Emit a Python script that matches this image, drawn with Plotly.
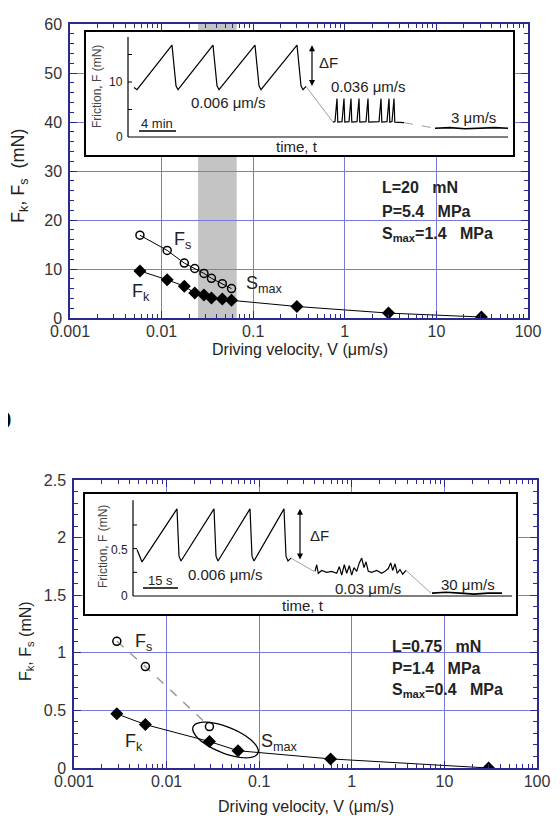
import numpy as np
import plotly.graph_objects as go

# page is 560x816 but the html body has an 8px margin
OFF = 8
W, H = 552, 808
FONT = "Liberation Sans, Arial, sans-serif"
NAVY = "#2b2b8f"
GRID = "#7878e2"

# ---- panel a (L = 20 mN) ----
v_top = [0.0058, 0.0115, 0.0177, 0.023, 0.029, 0.035, 0.046, 0.058, 0.30, 3.0, 31]
fk_top = [9.6, 7.8, 6.5, 5.1, 4.7, 4.1, 3.9, 3.6, 2.35, 1.0, 0.2]
vs_top = [0.0058, 0.0115, 0.0177, 0.023, 0.029, 0.035, 0.046, 0.058]
fs_top = [16.9, 13.8, 11.2, 10.1, 9.1, 8.1, 7.0, 6.0]
band_top = [0.025, 0.066]

# ---- panel b (L = 0.75 mN) ----
v_bot = [0.0029, 0.0059, 0.029, 0.059, 0.59, 30]
fk_bot = [0.47, 0.377, 0.23, 0.15, 0.079, 0.0]
vs_bot = [0.0029, 0.0059, 0.029]
fs_bot = [1.10, 0.88, 0.36]

x_ticks = [0.001, 0.01, 0.1, 1, 10, 100]
x_ticktext = ["0.001", "0.01", "0.1", "1", "10", "100"]

# ---- inset a: friction traces vs time (arbitrary time units) ----
saw_a_t = [6, 9, 44, 48, 50, 85, 89, 91, 127, 131, 133, 169, 173, 175, 178]
saw_a_f = [9.0, 8.6, 16.7, 9.3, 8.6, 16.7, 9.3, 8.6, 16.7, 9.3, 8.6, 16.7, 9.3, 8.6, 9.2]
link_a1_t = [178, 205]
link_a1_f = [9.2, 2.7]
stick_a_t = [205, 207, 209, 209.8, 214, 216, 216.8, 221, 223, 223.8, 229, 231, 231.8,
             238, 240, 240.8, 251, 253, 253.8, 259, 261, 261.8, 264, 266, 266.8, 276]
stick_a_f = [2.7, 2.8, 7.0, 2.7, 2.8, 7.0, 2.7, 2.8, 7.0, 2.7, 2.8, 7.0, 2.7,
             2.8, 7.0, 2.7, 2.8, 7.0, 2.7, 2.8, 7.0, 2.7, 2.8, 7.0, 2.7, 2.6]
link_a2_t = [276, 307]
link_a2_f = [2.6, 1.6]
steady_a_t = [307, 322, 337, 352, 367, 380]
steady_a_f = [1.6, 1.7, 1.5, 1.6, 1.7, 1.6]

# ---- inset b ----
saw_b_t = [4, 9, 44, 46, 48, 81, 83, 85, 117, 119, 121, 151, 153, 155, 158]
saw_b_f = [0.49, 0.36, 0.92, 0.42, 0.37, 0.92, 0.42, 0.37, 0.92, 0.42, 0.37, 0.92, 0.42, 0.37, 0.40]
link_b1_t = [158, 181]
link_b1_f = [0.40, 0.26]
noise_b_t = [182, 183.7, 185.3, 188.7, 193.7, 198.7, 203.7, 206.3, 208.7, 211.3, 213.7,
             216.3, 218.7, 221, 223.7, 226.3, 228.7, 231, 233, 235.3, 238.7, 243.7,
             248.7, 252, 255.3, 257.7, 259.7, 262, 264.3, 267, 269.7, 273]
noise_b_f = [0.26, 0.33, 0.24, 0.27, 0.25, 0.26, 0.24, 0.31, 0.22, 0.33, 0.24,
             0.32, 0.22, 0.30, 0.26, 0.35, 0.40, 0.30, 0.36, 0.26, 0.25, 0.27,
             0.24, 0.26, 0.29, 0.35, 0.27, 0.34, 0.24, 0.28, 0.23, 0.27]
link_b2_t = [273, 298]
link_b2_f = [0.27, 0.03]
steady_b_t = [299, 313, 327, 341, 355, 369]
steady_b_f = [0.03, 0.04, 0.03, 0.02, 0.03, 0.03]

NB = "\u00a0"


def px(x):
    return (x - OFF) / W


def py(y):
    return 1 - (y - OFF) / H


def ann(text, x, y, size=15, xanchor="center", bold=False, angle=0, color="#222"):
    if bold:
        text = "<b>" + text + "</b>"
    return dict(text=text, x=px(x), y=py(y), xref="paper", yref="paper",
                showarrow=False, xanchor=xanchor, yanchor="middle", textangle=angle,
                font=dict(size=size, color=color, family=FONT))


fig = go.Figure()

# main data
fig.add_trace(go.Scatter(x=v_top, y=fk_top, mode="lines+markers", xaxis="x", yaxis="y",
                         line=dict(color="black", width=1),
                         marker=dict(symbol="diamond", size=10, color="black")))
fig.add_trace(go.Scatter(x=vs_top, y=fs_top, mode="lines+markers", xaxis="x", yaxis="y",
                         line=dict(color="black", width=1),
                         marker=dict(symbol="circle-open", size=8, color="black",
                                     line=dict(width=1.5))))
fig.add_trace(go.Scatter(x=vs_bot, y=fs_bot, mode="lines+markers", xaxis="x2", yaxis="y2",
                         line=dict(color="#9a9a9a", width=1.5, dash="dash"),
                         marker=dict(symbol="circle-open", size=8, color="black",
                                     line=dict(width=1.5))))
fig.add_trace(go.Scatter(x=v_bot, y=fk_bot, mode="lines+markers", xaxis="x2", yaxis="y2",
                         line=dict(color="black", width=1),
                         marker=dict(symbol="diamond", size=10, color="black")))


# inset traces
def inset_line(t, f, ax, color="black", width=1.2, dash="solid"):
    fig.add_trace(go.Scatter(x=t, y=f, mode="lines", xaxis="x" + ax, yaxis="y" + ax,
                             line=dict(color=color, width=width, dash=dash)))


inset_line(saw_a_t, saw_a_f, "3")
inset_line(link_a1_t, link_a1_f, "3", color="#888", width=0.8)
inset_line(stick_a_t, stick_a_f, "3")
inset_line(link_a2_t, link_a2_f, "3", color="#888", width=0.8, dash="dash")
inset_line(steady_a_t, steady_a_f, "3", width=1.6)

inset_line(saw_b_t, saw_b_f, "4")
inset_line(link_b1_t, link_b1_f, "4", color="#888", width=0.8)
inset_line(noise_b_t, noise_b_f, "4")
inset_line(link_b2_t, link_b2_f, "4", color="#888", width=0.8)
inset_line(steady_b_t, steady_b_f, "4", width=1.6)

minor_x = [m * 10.0 ** e for e in range(-3, 2) for m in range(2, 10)]

axis_common = dict(showline=True, linecolor=NAVY, linewidth=1.5, mirror="allticks",
                   ticks="inside", tickcolor=NAVY, tickwidth=1.2, ticklen=7,
                   showgrid=True, gridcolor=GRID, gridwidth=1, zeroline=False,
                   automargin=False, tickfont=dict(size=16, color="#333", family=FONT))


def xax(domain):
    return dict(axis_common, type="log", range=[-3, 2], domain=domain,
                tickmode="array", tickvals=x_ticks, ticktext=x_ticktext,
                ticklabelstandoff=-2,
                minor=dict(ticks="inside", ticklen=4, tickcolor=NAVY, tickwidth=1,
                           tickmode="array", tickvals=minor_x, showgrid=False))


def yax(domain, rng, dtick, mdtick):
    return dict(axis_common, range=rng, domain=domain, dtick=dtick, tick0=0,
                ticklabelstandoff=3,
                minor=dict(ticks="inside", ticklen=4, tickcolor=NAVY, tickwidth=1,
                           dtick=mdtick, tick0=0, showgrid=False))


inset_axis = dict(showline=True, mirror=True, linecolor="black", linewidth=1.5,
                  showticklabels=False, ticks="", showgrid=False, zeroline=False,
                  automargin=False)

ins_a_x = [-42, 385]
ins_a_y = [-3.27, 19.09]
ins_b_x = [-48, 383]
ins_b_y = [-0.19, 1.077]

fig.update_layout(
    width=W, height=H, template="none", showlegend=False,
    margin=dict(l=0, r=0, t=0, b=0),
    paper_bgcolor="white", plot_bgcolor="white",
    font=dict(family=FONT, color="#222"),
    xaxis=dict(xax([px(70), px(528)]), anchor="y"),
    yaxis=dict(yax([py(318), py(24)], [0, 60], 10, 2), anchor="x"),
    xaxis2=dict(xax([px(74), px(537)]), anchor="y2"),
    yaxis2=dict(yax([py(768), py(480)], [0, 2.5], 0.5, 0.1), anchor="x2"),
    xaxis3=dict(inset_axis, domain=[px(86), px(513)], range=ins_a_x, anchor="y3"),
    yaxis3=dict(inset_axis, domain=[py(155), py(32)], range=ins_a_y, anchor="x3"),
    xaxis4=dict(inset_axis, domain=[px(85), px(516)], range=ins_b_x, anchor="y4"),
    yaxis4=dict(inset_axis, domain=[py(614), py(494)], range=ins_b_y, anchor="x4"),
)

shapes = []
# grey velocity band in panel a
shapes.append(dict(type="rect", xref="x", yref="y", x0=band_top[0], x1=band_top[1],
                   y0=0, y1=60, fillcolor="#c4c4c4", line=dict(width=0), layer="below"))
# white inset backgrounds
for xa, ya, xr, yr in [("x3", "y3", ins_a_x, ins_a_y), ("x4", "y4", ins_b_x, ins_b_y)]:
    shapes.append(dict(type="rect", xref=xa, yref=ya, x0=xr[0], x1=xr[1], y0=yr[0], y1=yr[1],
                       fillcolor="white", line=dict(width=0), layer="below"))


# inset inner axes
def inset_axes(xa, ya, ytop, xend, yticks, tlen):
    shapes.append(dict(type="line", xref=xa, yref=ya, x0=0, x1=0, y0=0, y1=ytop,
                       line=dict(color="black", width=1.2)))
    shapes.append(dict(type="line", xref=xa, yref=ya, x0=0, x1=xend, y0=0, y1=0,
                       line=dict(color="black", width=1.2)))
    for yt in yticks:
        shapes.append(dict(type="line", xref=xa, yref=ya, x0=0, x1=tlen, y0=yt, y1=yt,
                           line=dict(color="black", width=1)))


inset_axes("x3", "y3", 18.2, 380, [5, 10, 15], 4)
inset_axes("x4", "y4", 1.01, 379, [0.25, 0.5, 0.75], 4)

# scale bars
shapes.append(dict(type="line", xref="paper", yref="paper", x0=px(139), x1=px(176),
                   y0=py(131), y1=py(131), line=dict(color="black", width=1.5)))
shapes.append(dict(type="line", xref="paper", yref="paper", x0=px(143), x1=px(178),
                   y0=py(588), y1=py(588), line=dict(color="black", width=1.5)))

# ellipse around S_max points in panel b
th = np.linspace(0, 2 * np.pi, 60)
a, b, ang = 35, 13, np.deg2rad(22)
ex = 225.5 + a * np.cos(th) * np.cos(ang) - b * np.sin(th) * np.sin(ang)
ey = 740 + a * np.cos(th) * np.sin(ang) + b * np.sin(th) * np.cos(ang)
path = "M " + " L ".join(f"{px(x):.5f},{py(y):.5f}" for x, y in zip(ex, ey)) + " Z"
shapes.append(dict(type="path", xref="paper", yref="paper", path=path,
                   line=dict(color="black", width=1.3)))

fig.update_layout(shapes=shapes)

anns = []
# axis titles
anns.append(ann("Driving velocity, V (μm/s)", 300, 349, size=16))
anns.append(ann("Driving velocity, V (μm/s)", 306, 806, size=16))
anns.append(ann("F<sub>k</sub>," + NB + "F<sub>s</sub>" + NB + NB + "(mN)", 20, 176, size=18, angle=-90))
anns.append(ann("F<sub>k</sub>, F<sub>s</sub> (mN)", 26, 641, size=16, angle=-90))

# panel a labels
anns.append(ann("F<sub>s</sub>", 182, 240, size=18))
anns.append(ann("F<sub>k</sub>", 141, 292, size=18))
anns.append(ann("S<sub>max</sub>", 264, 284, size=18))
anns.append(ann("L=20" + NB + NB + " mN", 380, 188, size=16, xanchor="left", bold=True))
anns.append(ann("P=5.4" + NB + NB + " MPa", 380, 211, size=16, xanchor="left", bold=True))
anns.append(ann("S<sub>max</sub>=1.4" + NB + NB + " MPa", 380, 234, size=16, xanchor="left", bold=True))

# inset a labels
anns.append(ann("Friction, F (mN)", 97, 87, size=12, angle=-90, color="#444"))
anns.append(ann("10", 125, 82, size=12, xanchor="right"))
anns.append(ann("0", 125, 137, size=12, xanchor="right"))
anns.append(ann("0.006 μm/s", 228, 102, size=15))
anns.append(ann("4 min", 157, 123, size=13))
anns.append(ann("ΔF", 328, 63, size=15))
anns.append(ann("0.036 μm/s", 368, 87, size=15))
anns.append(ann("3 μm/s", 473, 117, size=15))
anns.append(ann("time, t", 297, 146, size=15))
anns.append(dict(x=184, y=16.7, ax=184, ay=9.0, xref="x3", yref="y3", axref="x3", ayref="y3",
                 text="", showarrow=True, arrowside="end+start", arrowhead=2,
                 arrowsize=1, arrowwidth=1.2, arrowcolor="black"))

# panel b labels
anns.append(ann("F<sub>s</sub>", 143, 642, size=18))
anns.append(ann("F<sub>k</sub>", 134, 742, size=18))
anns.append(ann("S<sub>max</sub>", 279, 742, size=18))
anns.append(ann("L=0.75" + NB + NB + " mN", 390, 646, size=16, xanchor="left", bold=True))
anns.append(ann("P=1.4" + NB + NB + " MPa", 390, 668, size=16, xanchor="left", bold=True))
anns.append(ann("S<sub>max</sub>=0.4" + NB + NB + " MPa", 390, 690, size=16, xanchor="left", bold=True))

# inset b labels
anns.append(ann("Friction, F (mN)", 103, 547, size=12, angle=-90, color="#444"))
anns.append(ann("0.5", 130, 550, size=12, xanchor="right"))
anns.append(ann("0", 130, 596, size=12, xanchor="right"))
anns.append(ann("0.006 μm/s", 225, 574, size=15))
anns.append(ann("15 s", 160, 580, size=13))
anns.append(ann("ΔF", 319, 535, size=15))
anns.append(ann("0.03 μm/s", 368, 588, size=15))
anns.append(ann("30 μm/s", 468, 584, size=15))
anns.append(ann("time, t", 303, 605, size=15))
anns.append(dict(x=167, y=0.92, ax=167, ay=0.37, xref="x4", yref="y4", axref="x4", ayref="y4",
                 text="", showarrow=True, arrowside="end+start", arrowhead=2,
                 arrowsize=1, arrowwidth=1.2, arrowcolor="black"))

# panel letter, cut at the page edge
anns.append(ann("b", 14, 417, size=30, xanchor="right", color="black"))

fig.update_layout(annotations=anns)

fig.write_html("out.html")
